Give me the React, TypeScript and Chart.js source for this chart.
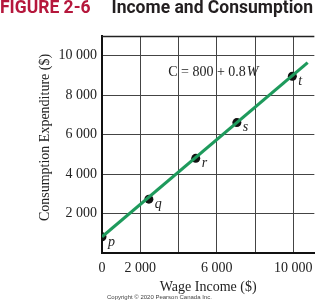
import React, { useEffect, useRef } from "react";
import { Chart, registerables } from "chart.js";

Chart.register(...registerables);

// ---- data ----
const lineX = [0, 10750];
const lineY = [820, 9650];
const pointX = [0, 2450, 4900, 7050, 9950];
const pointY = [820, 2730, 4800, 6610, 8960];
const pointLabels = ["p", "q", "r", "s", "t"];
const xTickValues = [0, 2000, 4000, 6000, 8000, 10000];
const xTickLabels = ["0", "2 000", "", "6 000", "", "10 000"];
const yTickValues = [0, 2000, 4000, 6000, 8000, 10000];
const yTickLabels = ["", "2 000", "4 000", "6 000", "8 000", "10 000"];
const eqText = "C = 800 + 0.8";
const eqVar = "W";
const eqX = 3460;
const eqY = 9150;
const xTitle = "Wage Income ($)";
const yTitle = "Consumption Expenditure ($)";
const figLabel = "FIGURE 2-6";
const figTitle = "Income and Consumption";
const copyright = "Copyright \u00A9 2020 Pearson Canada Inc.";

const SERIF = "'Liberation Serif', 'Times New Roman', serif";
const GREEN = "#1e9a5c";

const annotPlugin = {
  id: "annot",
  afterDatasetsDraw(chart: any) {
    const { ctx, chartArea, scales } = chart;
    const xs = scales.x;
    const ys = scales.y;
    ctx.save();
    // top border
    ctx.strokeStyle = "#222";
    ctx.lineWidth = 1.5;
    ctx.beginPath();
    ctx.moveTo(chartArea.left, chartArea.top + 0.5);
    ctx.lineTo(chartArea.right, chartArea.top + 0.5);
    ctx.stroke();
    // point labels
    ctx.fillStyle = "#222";
    ctx.font = `italic 14px ${SERIF}`;
    ctx.textAlign = "left";
    ctx.textBaseline = "middle";
    pointLabels.forEach((lab, i) => {
      const px = xs.getPixelForValue(pointX[i]);
      const py = ys.getPixelForValue(pointY[i]);
      ctx.fillText(lab, px + 6, py + 5);
    });
    // equation
    const ex = xs.getPixelForValue(eqX);
    const ey = ys.getPixelForValue(eqY);
    ctx.font = `14px ${SERIF}`;
    ctx.fillText(eqText, ex, ey);
    const w = ctx.measureText(eqText).width;
    ctx.font = `italic 14px ${SERIF}`;
    ctx.fillText(eqVar, ex + w + 1, ey);
    // y axis title
    ctx.font = `14px ${SERIF}`;
    ctx.textAlign = "center";
    ctx.translate(45, (chartArea.top + chartArea.bottom) / 2 - 7);
    ctx.rotate(-Math.PI / 2);
    ctx.fillText(yTitle, 0, 0);
    ctx.restore();
  },
};

export default function App() {
  const ref = useRef<HTMLCanvasElement | null>(null);
  useEffect(() => {
    if (!ref.current) return;
    const chart = new Chart(ref.current, {
      type: "scatter",
      data: {
        datasets: [
          {
            data: lineX.map((x, i) => ({ x, y: lineY[i] })),
            showLine: true,
            borderColor: GREEN,
            borderWidth: 3.2,
            pointRadius: 0,
            borderCapStyle: "butt",
          },
          {
            data: pointX.map((x, i) => ({ x, y: pointY[i] })),
            showLine: false,
            pointRadius: 4.5,
            backgroundColor: "#111",
            borderColor: "#111",
            borderWidth: 0,
          },
        ],
      },
      options: {
        animation: false,
        responsive: false,
        devicePixelRatio: 1,
        layout: { padding: { left: 37, top: 36, right: 0, bottom: 4 } },
        plugins: { legend: { display: false }, tooltip: { enabled: false }, title: { display: false } },
        scales: {
          x: {
            type: "linear",
            min: 0,
            max: 11100,
            afterBuildTicks: (s: any) => {
              s.ticks = xTickValues.map((v) => ({ value: v }));
            },
            afterFit: (s: any) => {
              s.height = 43;
            },
            ticks: {
              padding: 7,
              color: "#222",
              font: { family: SERIF, size: 14 },
              maxRotation: 0,
              autoSkip: false,
              callback: (v: any) => {
                const i = xTickValues.indexOf(Number(v));
                return i >= 0 ? xTickLabels[i] : "";
              },
            },
            grid: { color: "#444", lineWidth: 1, drawTicks: false },
            border: { color: "#111", width: 2 },
            title: {
              display: true,
              text: xTitle,
              color: "#222",
              font: { family: SERIF, size: 14 },
              padding: 0,
            },
          },
          y: {
            type: "linear",
            min: 0,
            max: 11000,
            afterBuildTicks: (s: any) => {
              s.ticks = yTickValues.map((v) => ({ value: v }));
            },
            afterFit: (s: any) => {
              s.width = 65;
            },
            ticks: {
              padding: 5,
              color: "#222",
              font: { family: SERIF, size: 14 },
              autoSkip: false,
              callback: (v: any) => {
                const i = yTickValues.indexOf(Number(v));
                return i >= 0 ? yTickLabels[i] : "";
              },
            },
            grid: { color: "#444", lineWidth: 1, drawTicks: false },
            border: { color: "#111", width: 2 },
            title: { display: false },
          },
        },
      },
      plugins: [annotPlugin],
    } as any);
    return () => chart.destroy();
  }, []);

  return (
    <div style={{ position: "absolute", left: 0, top: 0, width: 320, height: 300, background: "#fff", overflow: "hidden" }}>
      <canvas ref={ref} width={320} height={300} style={{ position: "absolute", left: 0, top: 0, width: 320, height: 300 }} />
      <div
        style={{
          position: "absolute",
          left: 0,
          top: -3,
          whiteSpace: "nowrap",
          fontFamily: "Roboto, 'Liberation Sans', sans-serif",
          fontWeight: 700,
          fontSize: 17.5,
          lineHeight: "20px",
        }}
      >
        <span style={{ color: "#b5173c" }}>{figLabel}</span>
        <span style={{ color: "#231f20", marginLeft: 21 }}>{figTitle}</span>
      </div>
      <div
        style={{
          position: "absolute",
          left: 107,
          top: 293,
          whiteSpace: "nowrap",
          fontFamily: "'Liberation Sans', Arial, sans-serif",
          fontSize: 6,
          lineHeight: "8px",
          color: "#444",
        }}
      >
        {copyright}
      </div>
    </div>
  );
}
